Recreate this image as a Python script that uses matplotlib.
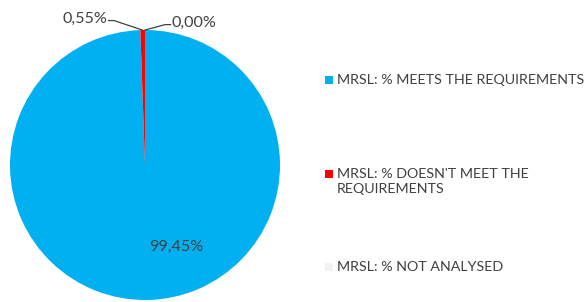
import matplotlib
matplotlib.use("Agg")
import matplotlib.pyplot as plt
from matplotlib.patches import Rectangle

categories = ["MRSL: % MEETS THE REQUIREMENTS",
              "MRSL: % DOESN'T MEET THE\nREQUIREMENTS",
              "MRSL: % NOT ANALYSED"]
values = [99.45, 0.55, 0.00]
colors = ["#00B0F0", "#FF0000", "#F2F2F2"]

W, H = 585, 302
fig = plt.figure(figsize=(W / 100, H / 100), dpi=100)
plt.rcParams['font.family'] = ['Lato', 'DejaVu Sans']
txt_color = "#404040"

ax = fig.add_axes([10 / W, 2 / H, 270 / W, 270 / H])
ax.pie(values, colors=colors, startangle=90, counterclock=False,
       wedgeprops=dict(linewidth=0))
ax.set_xlim(-1, 1)
ax.set_ylim(-1, 1)
ax.set_aspect('equal')
ax.axis('off')

def fmt(v):
    return f"{v:.2f}".replace('.', ',') + '%'

# data labels
ax.text(0.23, -0.61, fmt(values[0]), ha='center', va='center', fontsize=11.6, color=txt_color)
ax.plot([-0.02, -0.23, -0.27], [1.0, 1.07, 1.07], color=txt_color, lw=0.9, clip_on=False)
ax.text(-0.28, 1.08, fmt(values[1]), ha='right', va='center', fontsize=11.6, color=txt_color)
ax.plot([0.0, 0.15, 0.19], [1.0, 1.04, 1.04], color=txt_color, lw=0.9, clip_on=False)
ax.text(0.2, 1.05, fmt(values[2]), ha='left', va='center', fontsize=11.6, color=txt_color)

# legend
rows_y = [80, 174, 267]
for cat, col, y in zip(categories, colors, rows_y):
    fig.patches.append(Rectangle((325 / W, 1 - (y + 4) / H), 8 / W, 8 / H,
                                 transform=fig.transFigure, facecolor=col,
                                 edgecolor='none'))
    fig.text(337 / W, 1 - (y - 6) / H, cat, ha='left', va='top', fontsize=10.25,
             color=txt_color, linespacing=1.3)

fig.savefig("out.png", dpi=100)
